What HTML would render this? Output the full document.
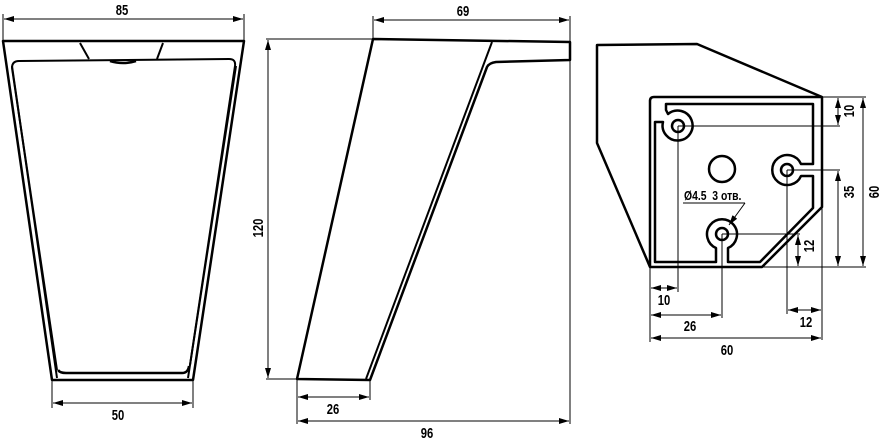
<!DOCTYPE html>
<html><head><meta charset="utf-8"><style>
html,body{margin:0;padding:0;background:#fff;}
svg{display:block;}
text{font-family:"Liberation Sans",sans-serif;font-weight:bold;font-size:15px;fill:#000;}
</style></head><body>
<svg width="887" height="446" viewBox="0 0 887 446" xmlns="http://www.w3.org/2000/svg">
<defs>
<marker id="a" viewBox="0 0 10 6" refX="10" refY="3" markerWidth="10" markerHeight="6" markerUnits="userSpaceOnUse" orient="auto-start-reverse"><path d="M0,0 L10,3 L0,6 z" fill="#000"/></marker>
</defs>
<g fill="none" stroke="#000" stroke-linejoin="round">
<path d="M3,41 L244,41 L193,380 L52,380 Z" stroke-width="2.5"/>
<path d="M57,378 L12,66" stroke-width="2"/>
<path d="M188,378 L236,66" stroke-width="2"/>
<path d="M58,370 Q60,373 66,373 L182,373 Q188,373 189,366" stroke-width="2.5"/>
<path d="M12,68 Q12,61 19,61 L229,59 Q236,59 235,66 L190,365" stroke-width="2"/>
<path d="M12,68 L57,370" stroke-width="2"/>
<path d="M80,43 L89,59 M163,43 L157,59" stroke-width="2"/>
<path d="M110,61 Q123,65 136,61" stroke-width="2.5"/>
<g stroke-width="1">
<line x1="3" y1="14" x2="3" y2="41"/><line x1="244" y1="14" x2="244" y2="41"/>
<line x1="4" y1="19" x2="243" y2="19" marker-start="url(#a)" marker-end="url(#a)"/>
<line x1="52" y1="380" x2="52" y2="408"/><line x1="193" y1="380" x2="193" y2="408"/>
<line x1="53" y1="403" x2="192" y2="403" marker-start="url(#a)" marker-end="url(#a)"/>
</g>
<path d="M373,39 L570,42 L570,60 L496,62 Q489,63 487,67 L370,380 L297,379 Z" stroke-width="2.5"/>
<path d="M492,42 L366,379" stroke-width="2"/>
<g stroke-width="1">
<line x1="266" y1="39" x2="373" y2="39"/><line x1="266" y1="379" x2="297" y2="379"/>
<line x1="268" y1="40" x2="268" y2="378" marker-start="url(#a)" marker-end="url(#a)"/>
<line x1="373" y1="16" x2="373" y2="39"/><line x1="570" y1="16" x2="570" y2="424"/>
<line x1="374" y1="20" x2="569" y2="20" marker-start="url(#a)" marker-end="url(#a)"/>
<line x1="297" y1="379" x2="297" y2="424"/><line x1="370" y1="380" x2="370" y2="400"/>
<line x1="298" y1="397" x2="369" y2="397" marker-start="url(#a)" marker-end="url(#a)"/>
<line x1="298" y1="421" x2="569" y2="421" marker-start="url(#a)" marker-end="url(#a)"/>
</g>
<path d="M597,45 L697,44 L822,97 L822,207 L762,267 L650,267 L597,143 Z" stroke-width="2.5"/>
<path d="M650,267 L650,101 Q650,97 654,97 L822,97" stroke-width="2.5"/>
<path d="M666,104 L813,104 L813,164 L801,164 A15,15 0 1 0 801,176 L813,176 L813,208 L760,262 L728,262 L728,248 A15,15 0 1 0 716,248 L716,262 L655,262 L655,122 L663,122 A15,15 0 1 0 668,114 L666,110 Z" stroke-width="2.5"/>
<circle cx="678" cy="126" r="6" stroke-width="2.5"/>
<circle cx="787" cy="170" r="6" stroke-width="2.5"/>
<circle cx="722" cy="234" r="6" stroke-width="2.5"/>
<circle cx="722" cy="169" r="13" stroke-width="2.5"/>
<g stroke-width="1">
<line x1="678" y1="126" x2="840" y2="126"/><line x1="678" y1="126" x2="678" y2="292"/>
<line x1="787" y1="170" x2="840" y2="170"/><line x1="787" y1="170" x2="787" y2="314"/>
<line x1="722" y1="234" x2="800" y2="234"/><line x1="722" y1="234" x2="722" y2="318"/>
<line x1="822" y1="97" x2="866" y2="97"/><line x1="762" y1="267" x2="866" y2="267"/>
<line x1="822" y1="207" x2="822" y2="340"/><line x1="650" y1="267" x2="650" y2="342"/>
<line x1="838" y1="98" x2="838" y2="125" marker-start="url(#a)" marker-end="url(#a)"/>
<line x1="838" y1="171" x2="838" y2="266" marker-start="url(#a)" marker-end="url(#a)"/>
<line x1="863" y1="98" x2="863" y2="266" marker-start="url(#a)" marker-end="url(#a)"/>
<line x1="798" y1="235" x2="798" y2="266" marker-start="url(#a)" marker-end="url(#a)"/>
<line x1="651" y1="288" x2="677" y2="288" marker-start="url(#a)" marker-end="url(#a)"/>
<line x1="651" y1="315" x2="721" y2="315" marker-start="url(#a)" marker-end="url(#a)"/>
<line x1="788" y1="310" x2="821" y2="310" marker-start="url(#a)" marker-end="url(#a)"/>
<line x1="651" y1="338" x2="821" y2="338" marker-start="url(#a)" marker-end="url(#a)"/>
<line x1="683" y1="203" x2="745" y2="203"/>
<line x1="745" y1="203" x2="729" y2="225" marker-end="url(#a)"/>
</g>
</g>
<text transform="translate(122,15) scale(0.75,1)" text-anchor="middle">85</text>
<text transform="translate(118,420) scale(0.75,1)" text-anchor="middle">50</text>
<text transform="translate(463,16) scale(0.75,1)" text-anchor="middle">69</text>
<text transform="translate(333,414) scale(0.75,1)" text-anchor="middle">26</text>
<text transform="translate(427,438) scale(0.75,1)" text-anchor="middle">96</text>
<text transform="translate(263,228) rotate(-90) scale(0.75,1)" text-anchor="middle">120</text>
<text transform="translate(854,111) rotate(-90) scale(0.75,1)" text-anchor="middle">10</text>
<text transform="translate(854,192) rotate(-90) scale(0.75,1)" text-anchor="middle">35</text>
<text transform="translate(879,192) rotate(-90) scale(0.75,1)" text-anchor="middle">60</text>
<text transform="translate(814,246) rotate(-90) scale(0.75,1)" text-anchor="middle">12</text>
<text transform="translate(664,305) scale(0.75,1)" text-anchor="middle">10</text>
<text transform="translate(690,331) scale(0.75,1)" text-anchor="middle">26</text>
<text transform="translate(806,327) scale(0.75,1)" text-anchor="middle">12</text>
<text transform="translate(727,355) scale(0.75,1)" text-anchor="middle">60</text>
<text transform="translate(684,200) scale(0.8,1)" style="font-size:13px" xml:space="preserve">Ø4.5  3 отв.</text>
</svg>
</body></html>
